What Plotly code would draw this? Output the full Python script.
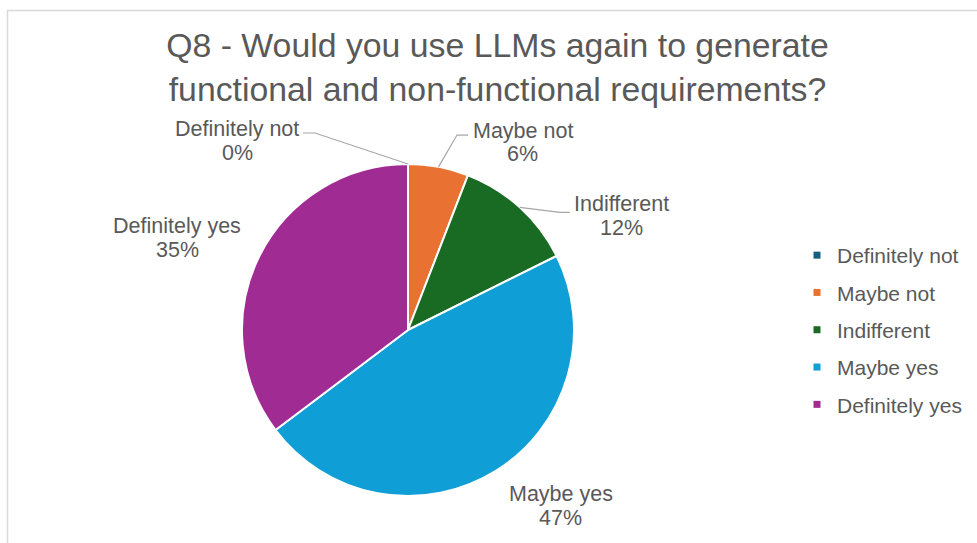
import math
import plotly.graph_objects as go

# Survey answers to Q8
categories = ["Definitely not", "Maybe not", "Indifferent", "Maybe yes", "Definitely yes"]
responses = [0, 1, 2, 8, 6]
colors = ["#156082", "#E97132", "#196B24", "#0F9ED5", "#A02B93"]

W, H = 977, 543
FONT = "Liberation Sans, Arial, sans-serif"
TEXT = "#595959"

# pie placement in pixels
cx, cy, r = 408, 330, 166

# label placement relative to the slice edge point (name-line centre),
# and leader line end (dx, dy, elbow length); None = no leader
label_offsets = [(-171, -35), (84, -36), (102, -3), (65.5, 23), (-82, -30)]
leaders = [(-105, -31, -12), (29.5, -31.8, 11), (50, 5, 10), None, None]
LINE_GAP = 23.5


def px(x):
    return x / W


def py(y):
    return 1 - y / H


total = sum(responses)
percents = [round(100 * v / total) for v in responses]

fig = go.Figure()
fig.add_trace(go.Pie(
    labels=categories,
    values=responses,
    marker=dict(colors=colors, line=dict(color="white", width=2)),
    sort=False,
    direction="clockwise",
    rotation=0,
    textinfo="none",
    hoverinfo="label+percent",
    showlegend=False,
    domain=dict(x=[px(cx - r), px(cx + r)], y=[py(cy + r), py(cy - r)]),
))

# legend entries as square markers
for i, (cat, col) in enumerate(zip(categories, colors)):
    fig.add_trace(go.Scatter(
        x=[None], y=[None], mode="markers", name=cat,
        marker=dict(symbol="square", size=7, color=col),
        legendgroup=f"g{i}", showlegend=True,
    ))

annotations = []
shapes = []
cum = 0
for cat, v, pct, (dx, dy), lead in zip(categories, responses, percents, label_offsets, leaders):
    theta = 2 * math.pi * (cum + v / 2) / total
    cum += v
    ax_ = cx + r * math.sin(theta)
    ay_ = cy - r * math.cos(theta)
    lx, ly = ax_ + dx, ay_ + dy
    for txt, yy in ((cat, ly), (f"{pct}%", ly + LINE_GAP)):
        annotations.append(dict(
            x=px(lx), y=py(yy), xref="paper", yref="paper",
            text=txt, showarrow=False, xanchor="center", yanchor="middle",
            font=dict(family=FONT, size=21.5, color=TEXT),
        ))
    if lead is not None:
        ex, ey, el = lead
        endx, endy = ax_ + ex, ay_ + ey
        elbx = endx - el
        shapes.append(dict(
            type="path", xref="paper", yref="paper",
            path=f"M {px(ax_)},{py(ay_)} L {px(elbx)},{py(endy)} L {px(endx)},{py(endy)}",
            line=dict(color="#A6A6A6", width=1.2),
        ))

# chart area border
shapes.append(dict(
    type="rect", xref="paper", yref="paper",
    x0=px(7.5), x1=1.05, y0=-0.05, y1=py(10.5),
    line=dict(color="#D9D9D9", width=1.5), layer="below",
))

fig.update_layout(
    width=W, height=H,
    margin=dict(l=0, r=0, t=0, b=0),
    paper_bgcolor="white", plot_bgcolor="white",
    title=dict(
        text="Q8 - Would you use LLMs again to generate<br>functional and non-functional requirements?",
        x=px(497.5), xanchor="center", y=py(57), yanchor="middle",
        font=dict(family=FONT, size=33.8, color=TEXT),
    ),
    xaxis=dict(visible=False), yaxis=dict(visible=False),
    legend=dict(
        x=px(797), xanchor="left", y=py(330), yanchor="middle",
        font=dict(family=FONT, size=21, color=TEXT),
        traceorder="grouped", tracegroupgap=7,
        bgcolor="rgba(0,0,0,0)",
    ),
    annotations=annotations,
    shapes=shapes,
)

fig.write_html("out.html")
